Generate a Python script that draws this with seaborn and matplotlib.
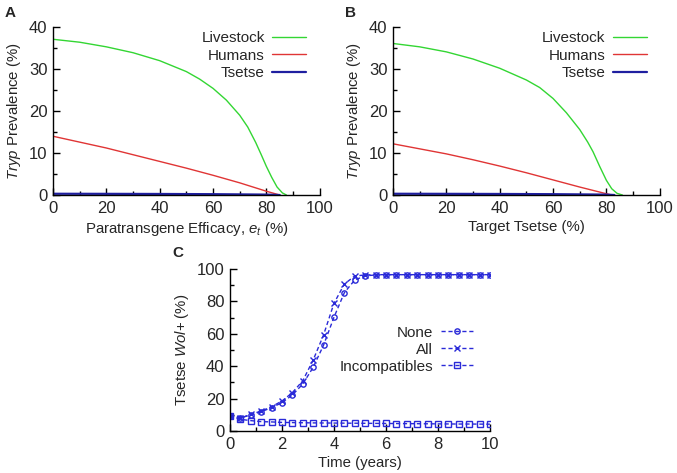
import numpy as np
import pandas as pd
import matplotlib
matplotlib.use("Agg")
import matplotlib.pyplot as plt
import seaborn as sns
from matplotlib.ticker import MultipleLocator

# ---------------- data ----------------
# Panel A: Paratransgene efficacy
a_live_x = [0, 10, 20, 30, 40, 50, 55, 60, 65, 70, 73, 76, 78, 80, 82, 84, 86, 87.5]
a_live_y = [37.1, 36.4, 35.3, 33.9, 32.0, 29.4, 27.6, 25.4, 22.6, 19.0, 16.2, 12.5, 9.7, 6.8, 4.2, 1.9, 0.5, 0.0]
a_hum_x = [0, 10, 20, 30, 40, 50, 60, 70, 80, 85]
a_hum_y = [14.0, 12.6, 11.2, 9.6, 8.0, 6.4, 4.7, 2.9, 0.9, 0.0]
a_tse_x = [0, 20, 40, 60, 80, 85]
a_tse_y = [0.3, 0.28, 0.25, 0.2, 0.1, 0.0]

# Panel B: Target tsetse
b_live_x = [0, 10, 20, 30, 40, 50, 55, 60, 65, 70, 73, 75, 77.5, 80, 82, 84, 86]
b_live_y = [36.1, 35.3, 34.1, 32.4, 30.2, 27.4, 25.6, 23.0, 19.6, 15.6, 12.6, 10.3, 6.8, 3.5, 1.5, 0.4, 0.0]
b_hum_x = [0, 10, 20, 30, 40, 50, 60, 70, 80, 82]
b_hum_y = [12.2, 11.0, 9.8, 8.4, 6.9, 5.3, 3.6, 1.9, 0.3, 0.0]
b_tse_x = [0, 20, 40, 60, 80, 83]
b_tse_y = [0.3, 0.28, 0.25, 0.2, 0.1, 0.0]

# Panel C: Tsetse Wol+ over time
c_time = [0, 0.4, 0.8, 1.2, 1.6, 2.0, 2.4, 2.8, 3.2, 3.6, 4.0, 4.4, 4.8, 5.2,
          5.6, 6.0, 6.4, 6.8, 7.2, 7.6, 8.0, 8.4, 8.8, 9.2, 9.6, 10.0]
c_none = [9.2, 8.2, 9.9, 11.9, 14.4, 17.5, 22.2, 29.0, 39.3, 53.0, 70.2, 85.4, 93.2, 95.8,
          96.3, 96.5, 96.5, 96.5, 96.5, 96.5, 96.5, 96.5, 96.5, 96.5, 96.5, 96.5]
c_all = [9.2, 7.8, 10.3, 12.3, 15.0, 18.5, 23.7, 31.0, 43.8, 59.3, 78.8, 90.7, 95.7, 96.3,
         96.5, 96.5, 96.5, 96.5, 96.5, 96.5, 96.5, 96.5, 96.5, 96.5, 96.5, 96.5]
c_incomp = [9.2, 7.2, 6.4, 5.8, 5.6, 5.3, 5.2, 5.1, 5.0, 4.95, 4.9, 4.85, 4.8, 4.75,
            4.7, 4.65, 4.6, 4.55, 4.5, 4.45, 4.4, 4.35, 4.3, 4.3, 4.25, 4.2]

# ---------------- style ----------------
sns.set_style("ticks")
plt.rcParams['font.family'] = ['Liberation Sans', 'DejaVu Sans']
plt.rcParams['mathtext.fontset'] = 'custom'
plt.rcParams['mathtext.rm'] = 'Liberation Sans'
plt.rcParams['mathtext.it'] = 'Liberation Sans:italic'
plt.rcParams['font.size'] = 10.5

GREEN = '#33d633'
RED = '#e03535'
NAVY = '#1f1fa0'
BLUE = '#2a2ad8'
TICK_FS = 12
LABEL_FS = 10.8
LEG_FS = 11

fig = plt.figure(figsize=(6.77, 4.73), dpi=100)
axA = fig.add_axes([0.0783, 0.5877, 0.394, 0.355])
axB = fig.add_axes([0.5805, 0.5877, 0.394, 0.355])
axC = fig.add_axes([0.3397, 0.0888, 0.384, 0.3425])


def style_axes(ax, xmaj, xmin, ymaj, ymin):
    for s in ['top', 'right']:
        ax.spines[s].set_visible(False)
    for s in ['left', 'bottom']:
        ax.spines[s].set_linewidth(1.0)
        ax.spines[s].set_color('black')
    ax.xaxis.set_major_locator(MultipleLocator(xmaj))
    ax.xaxis.set_minor_locator(MultipleLocator(xmin))
    ax.yaxis.set_major_locator(MultipleLocator(ymaj))
    ax.yaxis.set_minor_locator(MultipleLocator(ymin))
    ax.tick_params(which='major', direction='in', length=5, width=1, labelsize=TICK_FS, pad=4, color='black')
    ax.tick_params(which='minor', direction='in', length=3, width=1, color='black')


def prevalence_panel(ax, lx, ly, hx, hy, tx, ty, xlabel, leg_x):
    df = pd.concat([
        pd.DataFrame({'x': lx, 'y': ly, 'grp': 'Livestock'}),
        pd.DataFrame({'x': hx, 'y': hy, 'grp': 'Humans'}),
        pd.DataFrame({'x': tx, 'y': ty, 'grp': 'Tsetse'}),
    ])
    sns.lineplot(data=df, x='x', y='y', hue='grp',
                 palette={'Livestock': GREEN, 'Humans': RED, 'Tsetse': NAVY},
                 linewidth=1.0, ax=ax, sort=False)
    for line in ax.lines:
        if line.get_color() == NAVY:
            line.set_linewidth(1.6)
    ax.set_xlim(0, 100)
    ax.set_ylim(0, 40)
    style_axes(ax, 20, 10, 10, 5)
    ax.set_xlabel(xlabel, fontsize=LABEL_FS, labelpad=3)
    ax.set_ylabel(r'$\it{Tryp}$ Prevalence (%)', fontsize=LABEL_FS, labelpad=4)
    ax.legend(loc='upper right', bbox_to_anchor=(leg_x, 0.975), frameon=False,
              markerfirst=False, handlelength=2.2, handletextpad=0.5,
              labelspacing=0.22, fontsize=LEG_FS, borderpad=0, borderaxespad=0)


prevalence_panel(axA, a_live_x, a_live_y, a_hum_x, a_hum_y, a_tse_x, a_tse_y,
                 r'Paratransgene Efficacy, $e_t$ (%)', 0.948)
prevalence_panel(axB, b_live_x, b_live_y, b_hum_x, b_hum_y, b_tse_x, b_tse_y,
                 'Target Tsetse (%)', 0.951)

# Panel C
series_c = [('None', c_none, 'o'), ('All', c_all, 'x'), ('Incompatibles', c_incomp, 's')]
for name, vals, mk in series_c:
    d = pd.DataFrame({'t': c_time, 'v': vals})
    kw = dict(marker=mk, markersize=3.8, markeredgewidth=1.0, markeredgecolor=BLUE)
    if mk != 'x':
        kw['markerfacecolor'] = 'none'
    sns.lineplot(data=d, x='t', y='v', color=BLUE, linewidth=1.0, linestyle=(0, (3, 2)),
                 label=name, ax=axC, **kw)
axC.set_xlim(0, 10)
axC.set_ylim(0, 100)
style_axes(axC, 2, 1, 20, 10)
axC.set_xlabel('Time (years)', fontsize=LABEL_FS, labelpad=3)
axC.set_ylabel(r'Tsetse $\it{Wol}$+ (%)', fontsize=LABEL_FS, labelpad=4)
axC.legend(loc='upper right', bbox_to_anchor=(0.935, 0.65), frameon=False,
           markerfirst=False, handlelength=2.1, handletextpad=0.5, labelspacing=0.2,
           fontsize=LEG_FS, numpoints=1, borderpad=0, borderaxespad=0)

# Panel letters
fig.text(5 / 677, 1 - 13 / 473, 'A', fontsize=11, fontweight='bold', va='center', ha='left')
fig.text(345 / 677, 1 - 13 / 473, 'B', fontsize=11, fontweight='bold', va='center', ha='left')
fig.text(172 / 677, 1 - 253 / 473, 'C', fontsize=11, fontweight='bold', va='center', ha='left')

fig.savefig('out.png', dpi=100)
